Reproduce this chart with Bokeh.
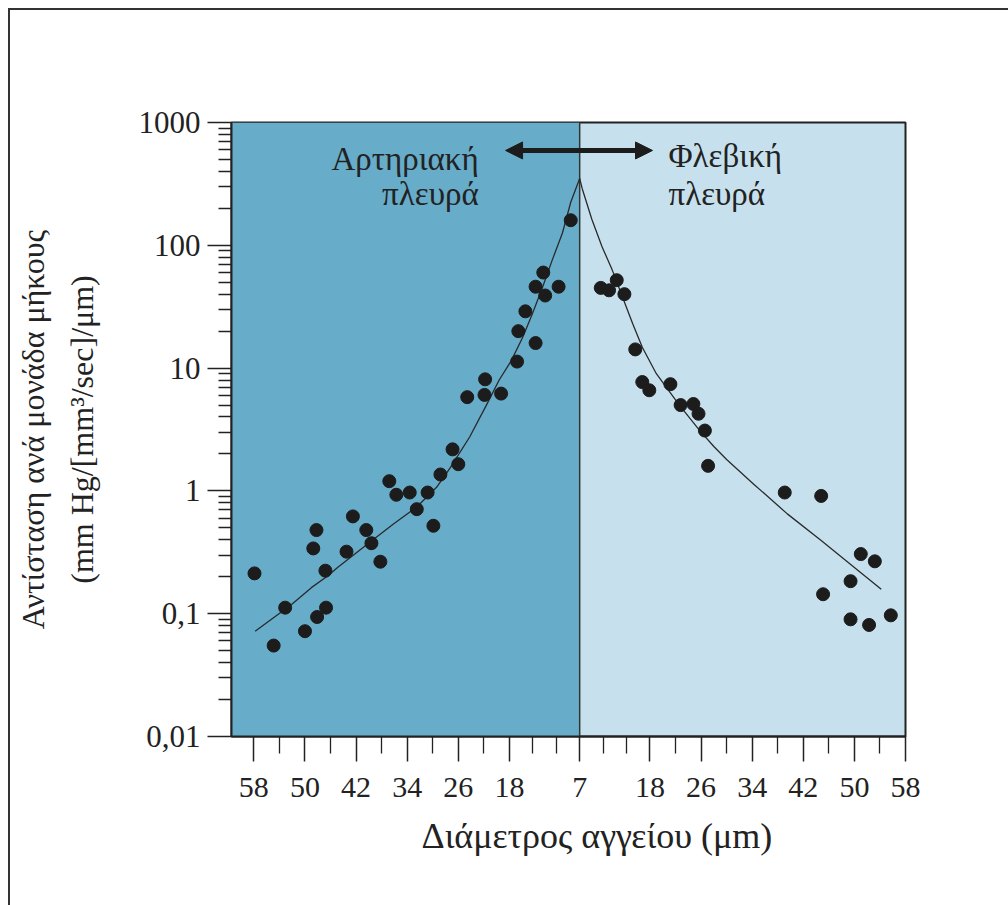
import numpy as np
from bokeh.plotting import figure
from bokeh.models import (FixedTicker, BoxAnnotation, Span, Label, Arrow,
                          NormalHead, Range1d, Title, GlobalInlineStyleSheet)
from bokeh.embed import file_html
from bokeh.resources import INLINE

# ---- data ----
art_diam = [8.4, 12.7, 13.9, 10.3, 12.4, 15.5, 16.6, 13.9, 16.8, 21.8, 24.6, 21.9,
            19.3, 26.9, 26.0, 28.8, 36.8, 35.7, 33.6, 30.8, 32.5, 29.9, 42.5, 48.2,
            40.4, 48.7, 43.5, 39.6, 38.2, 46.8, 57.9, 53.1, 46.7, 48.1, 50.0, 54.9]
art_res = [160, 60, 46, 46, 39, 29, 20, 16, 11.3, 8.1, 5.8, 6.05,
           6.2, 2.18, 1.65, 1.36, 1.2, 0.93, 0.97, 0.97, 0.71, 0.52, 0.62, 0.48,
           0.48, 0.34, 0.32, 0.375, 0.265, 0.224, 0.213, 0.112, 0.112, 0.094, 0.072, 0.055]

ven_diam = [10.3, 11.6, 12.8, 14.0, 15.7, 16.8, 17.9, 21.2, 22.8, 24.8, 25.6, 26.6,
            27.1, 39.1, 44.8, 51.0, 53.2, 49.4, 45.1, 49.4, 52.3, 55.7]
ven_res = [45, 43, 52, 40, 14.2, 7.7, 6.6, 7.4, 5.0, 5.1, 4.25, 3.1,
           1.6, 0.97, 0.91, 0.306, 0.267, 0.184, 0.144, 0.09, 0.081, 0.097]

art_fit_diam = [57.8, 52.1, 49.0, 46.4, 44.9, 40.2, 36.1, 32.5, 29.4, 27.3, 24.2,
                21.6, 19.6, 17.7, 15.9, 14.4, 12.8, 11.3, 9.7, 8.4, 7.0]
art_fit_res = [0.072, 0.119, 0.163, 0.204, 0.238, 0.37, 0.54, 0.74, 1.07, 1.53, 2.76,
               4.99, 8.0, 11.5, 17.9, 27.7, 45.8, 75.7, 126, 224, 350]

ven_fit_diam = [7.0, 7.4, 8.9, 10.5, 12.1, 13.7, 15.3, 16.8, 19.0, 22.6, 25.8,
                28.0, 30.0, 34.2, 39.5, 44.8, 50.0, 54.2]
ven_fit_res = [350, 289, 163, 97.5, 62.8, 38, 23, 14.8, 9.0, 5.0, 3.1,
               2.3, 1.8, 1.14, 0.65, 0.395, 0.238, 0.158]

x_tick_diam = [58, 50, 42, 34, 26, 18, 7, 18, 26, 34, 42, 50, 58]
x_tick_side = [-1, -1, -1, -1, -1, -1, 0, 1, 1, 1, 1, 1, 1]
x_minor_diam = [54, 46, 38, 30, 22, 14.33, 10.67, 10.67, 14.33, 22, 30, 38, 46, 54]
x_minor_side = [-1, -1, -1, -1, -1, -1, -1, 1, 1, 1, 1, 1, 1, 1]

y_tick_vals = [0.01, 0.1, 1, 10, 100, 1000]
y_tick_labels = ["0,01", "0,1", "1", "10", "100", "1000"]

title_y = "Αντίσταση ανά μονάδα μήκους"
title_y2 = "(mm Hg/[mm³/sec]/μm)"
title_x = "Διάμετρος αγγείου (μm)"
art_label = ["Αρτηριακή", "πλευρά"]
ven_label = ["Φλεβική", "πλευρά"]

CENTER_D = 7.0


def to_pos(diam, side):
    return [s * (d - CENTER_D) for d, s in zip(diam, side)]


art_x = [-(d - CENTER_D) for d in art_diam]
ven_x = [(d - CENTER_D) for d in ven_diam]
art_fit_x = [-(d - CENTER_D) for d in art_fit_diam]
ven_fit_x = [(d - CENTER_D) for d in ven_fit_diam]
x_ticks = to_pos(x_tick_diam, x_tick_side)
x_minor = to_pos(x_minor_diam, x_minor_side)

y_minor = [k * 10.0 ** e for e in range(-2, 3) for k in range(2, 10)]

FONT = "Liberation Serif"
DARK = "#1c1c1c"
TXT = "#222222"
MID_BLUE = "#67acc9"
LIGHT_BLUE = "#c6e1ed"

p = figure(width=1008, height=905,
           x_range=Range1d(-54.5, 51),
           y_range=Range1d(0.01, 1000), y_axis_type="log",
           output_backend="svg", toolbar_location=None,
           min_border_left=231, min_border_right=103,
           min_border_top=122, min_border_bottom=169)

# page frame line (top and left edges) painted as the page background,
# visible through the transparent border area of the canvas
p.border_fill_color = None
page_css = """
html, body { margin: 0; padding: 0; overflow: hidden; }
body {
  background-color: white;
  background-image: linear-gradient(#333333, #333333), linear-gradient(#333333, #333333);
  background-size: 2px 100%, 100% 2px;
  background-position: 8px 8px, 8px 8px;
  background-repeat: no-repeat;
}
"""
p.stylesheets = [GlobalInlineStyleSheet(css=page_css)]

p.grid.visible = False
p.background_fill_color = LIGHT_BLUE
p.outline_line_color = TXT
p.outline_line_width = 2

# backgrounds
p.add_layout(BoxAnnotation(right=0, fill_color=MID_BLUE, fill_alpha=1.0,
                           line_alpha=0, level="underlay"))
p.add_layout(Span(location=0, dimension="height", line_color="#333333",
                  line_width=1.5, level="underlay"))

# fitted curves
p.line(art_fit_x, art_fit_res, line_color="#2a2a2a", line_width=1.3, line_join="round")
p.line(ven_fit_x, ven_fit_res, line_color="#2a2a2a", line_width=1.3, line_join="round")

# points
p.scatter(art_x, art_res, size=13, color=DARK)
p.scatter(ven_x, ven_res, size=13, color=DARK)

# axes
xa = p.xaxis[0]
xa.ticker = FixedTicker(ticks=x_ticks, minor_ticks=x_minor)
xa.major_label_overrides = {float(t): str(d) for t, d in zip(x_ticks, x_tick_diam)}
xa.major_tick_out = 25
xa.major_tick_in = 0
xa.minor_tick_out = 17
xa.minor_tick_in = 0
xa.major_tick_line_width = 1.5
xa.minor_tick_line_width = 1.3
xa.major_tick_line_color = TXT
xa.minor_tick_line_color = TXT
xa.axis_line_width = 2
xa.axis_line_color = TXT
xa.major_label_text_font = FONT
xa.major_label_text_font_size = "30px"
xa.major_label_text_color = TXT
xa.major_label_standoff = 16

ya = p.yaxis[0]
ya.ticker = FixedTicker(ticks=y_tick_vals, minor_ticks=y_minor)
ya.major_label_overrides = {float(v): l for v, l in zip(y_tick_vals, y_tick_labels)}
ya.major_tick_out = 24
ya.major_tick_in = 0
ya.minor_tick_out = 13
ya.minor_tick_in = 0
ya.major_tick_line_width = 1.5
ya.minor_tick_line_width = 1.3
ya.major_tick_line_color = TXT
ya.minor_tick_line_color = TXT
ya.axis_line_width = 2
ya.axis_line_color = TXT
ya.major_label_text_font = FONT
ya.major_label_text_font_size = "31px"
ya.major_label_text_color = TXT
ya.major_label_standoff = 7
ya.axis_label = title_y + "\n" + title_y2
ya.axis_label_text_font = FONT
ya.axis_label_text_font_size = "32px"
ya.axis_label_text_font_style = "normal"
ya.axis_label_text_color = TXT
ya.axis_label_text_line_height = 1.35
ya.axis_label_standoff = 36

# x title below the axis
p.add_layout(Title(text=title_x, align="left", offset=190, text_font=FONT,
                   text_font_size="36px", text_font_style="normal",
                   text_color=TXT, standoff=28), "below")

# arrow
head = dict(size=17, fill_color=DARK, line_color=DARK)
p.add_layout(Arrow(start=NormalHead(**head), end=NormalHead(**head),
                   x_start=-11.6, y_start=592, x_end=11.4, y_end=592,
                   line_width=5, line_color=DARK))

lab = dict(text_font=FONT, text_font_size="33px", text_color=TXT,
           text_baseline="middle")
p.add_layout(Label(x=-15.8, y=509, text=art_label[0], text_align="right", **lab))
p.add_layout(Label(x=-15.8, y=264, text=art_label[1], text_align="right", **lab))
p.add_layout(Label(x=13.9, y=538, text=ven_label[0], text_align="left", **lab))
p.add_layout(Label(x=13.9, y=264, text=ven_label[1], text_align="left", **lab))

open("out.html", "w").write(file_html(p, INLINE))
